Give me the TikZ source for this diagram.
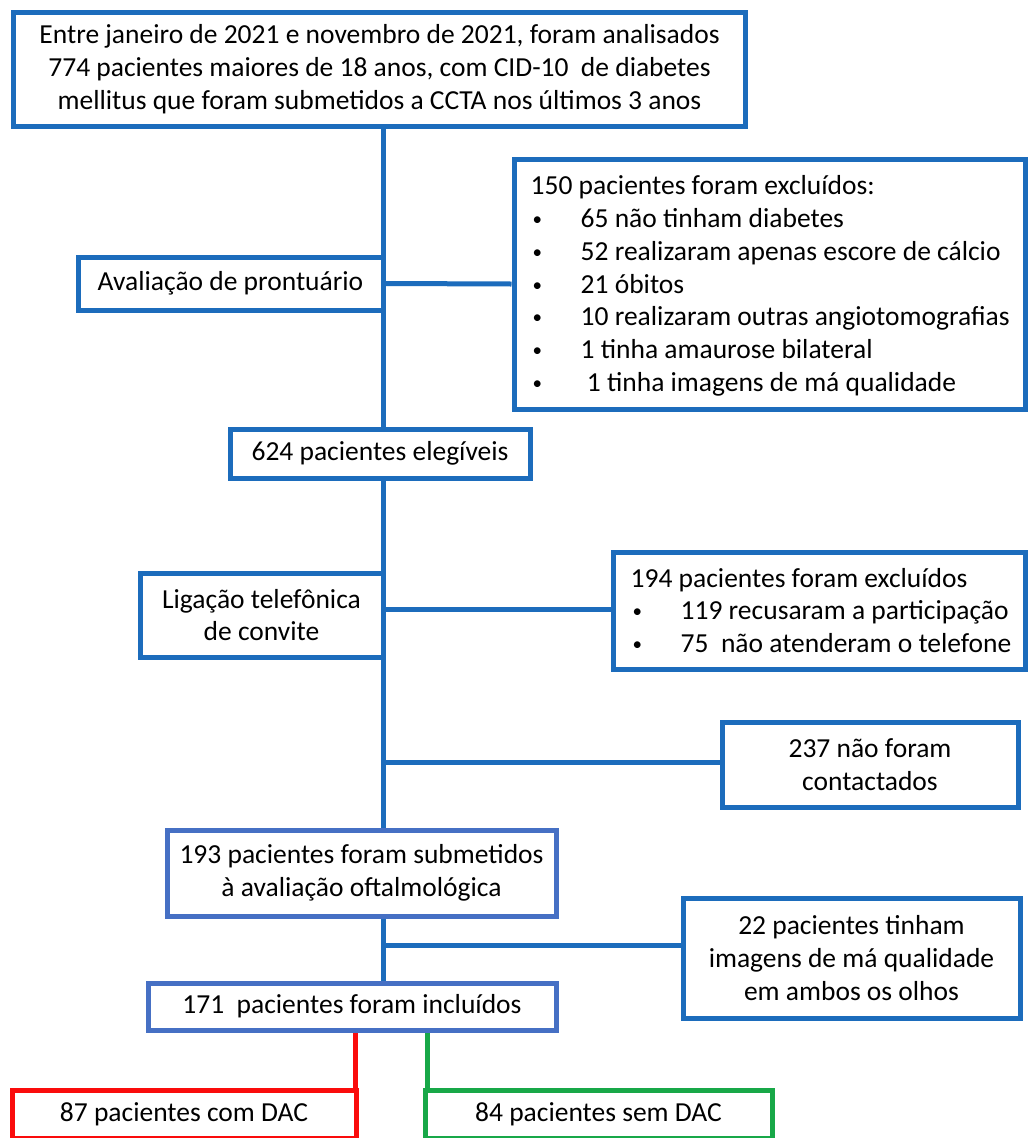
\documentclass[tikz,border=0pt]{standalone}
\usepackage{fontspec}
\setmainfont{Carlito}
\usetikzlibrary{backgrounds}
\definecolor{lblue}{RGB}{28,108,188}
\definecolor{pblue}{RGB}{70,112,196}
\definecolor{cred}{RGB}{250,12,12}
\definecolor{cgreen}{RGB}{24,168,72}
\newcommand\myfs{\fontsize{27.5}{32.8}\selectfont}
\newcommand\bul{\hspace*{2pt}\makebox[48pt][l]{\raisebox{2pt}{\fontsize{19}{19}\selectfont\textbullet}}}
\begin{document}
\begin{tikzpicture}[x=1pt,y=-1pt,
  box/.style={draw=lblue,line width=5pt,fill=white,rectangle,inner sep=0pt,align=center,font=\myfs,text=black},
  pbox/.style={box,draw=pblue},
  listt/.style={inner sep=0pt,align=left,font=\myfs,text=black,anchor=west},
  conn/.style={draw=lblue,line width=5pt},
]
\useasboundingbox (0,0) rectangle (1028,1138);

\node[box,minimum width=732pt,minimum height=114pt] (top) at (379.5,69)
  {Entre janeiro de 2021 e novembro de 2021, foram analisados\\
   774 pacientes maiores de 18 anos, com CID-10\ \ de diabetes\\
   mellitus que foram submetidos a CCTA nos últimos 3 anos};

\node[box,minimum width=511pt,minimum height=250pt] (ex1) at (769.5,284) {};
\node[listt] (ex1t) at ([xshift=19pt,yshift=-2pt]ex1.west)
  {150 pacientes foram excluídos:\\
   \bul 65 não tinham diabetes\\
   \bul 52 realizaram apenas escore de cálcio\\
   \bul 21 óbitos\\
   \bul 10 realizaram outras angiotomografias\\
   \bul 1 tinha amaurose bilateral\\
   \bul\ 1 tinha imagens de má qualidade};

\node[box,minimum width=305pt,minimum height=53pt] (avl) at (230.5,283.5) {Avaliação de prontuário};

\node[box,minimum width=300pt,minimum height=49pt] (e624) at (380,453.5) {624 pacientes elegíveis};

\node[box,minimum width=243pt,minimum height=84pt] (lig) at (261.5,615) {Ligação telefônica\\de convite};

\node[box,minimum width=412pt,minimum height=117pt] (ex2) at (819,610.5) {};
\node[listt] (ex2t) at ([xshift=20pt]ex2.west)
  {194 pacientes foram excluídos\\
   \bul 119 recusaram a participação\\
   \bul 75\ \ não atenderam o telefone};

\node[box,minimum width=296pt,minimum height=85pt] (ex3) at (870,764.5) {237 não foram\\contactados};

\node[pbox,minimum width=389pt,minimum height=86pt] (e193) at (361.5,873)
  {193 pacientes foram submetidos\\à avaliação oftalmológica};

\node[box,minimum width=337pt,minimum height=120pt] (ex4) at (851.5,958)
  {22 pacientes tinham\\imagens de má qualidade\\em ambos os olhos};

\node[pbox,minimum width=408pt,minimum height=47pt] (e171) at (352,1006.5) {171\ \ pacientes foram incluídos};

\node[box,draw=cred,minimum width=344pt,minimum height=48pt] (e87) at (184,1114) {87 pacientes com DAC};
\node[box,draw=cgreen,minimum width=347pt,minimum height=48pt] (e84) at (598.5,1114) {84 pacientes sem DAC};

\coordinate (m) at (383,0);
\coordinate (j2) at (383,609);
\coordinate (j3) at (383,762);
\coordinate (j4) at (383,945);
\coordinate (r) at (355,0);
\coordinate (g) at (427,0);

\begin{pgfonlayer}{background}
\fill[white] (0,0) rectangle (1028,1138);
\path[conn] (top.south -| m) -- (e193.north -| m);
\path[conn] (avl.east) -- (ex1.west);
\path[conn] (j2) -- (ex2.west |- j2);
\path[conn] (j3) -- (ex3.west |- j3);
\path[conn] (e193.south -| m) -- (e171.north -| m);
\path[conn] (j4) -- (ex4.west |- j4);
\draw[cred,line width=5pt] (e171.south -| r) -- (e87.north -| r);
\draw[cgreen,line width=5pt] (e171.south -| g) -- (e84.north -| g);
\end{pgfonlayer}
\end{tikzpicture}
\end{document}
